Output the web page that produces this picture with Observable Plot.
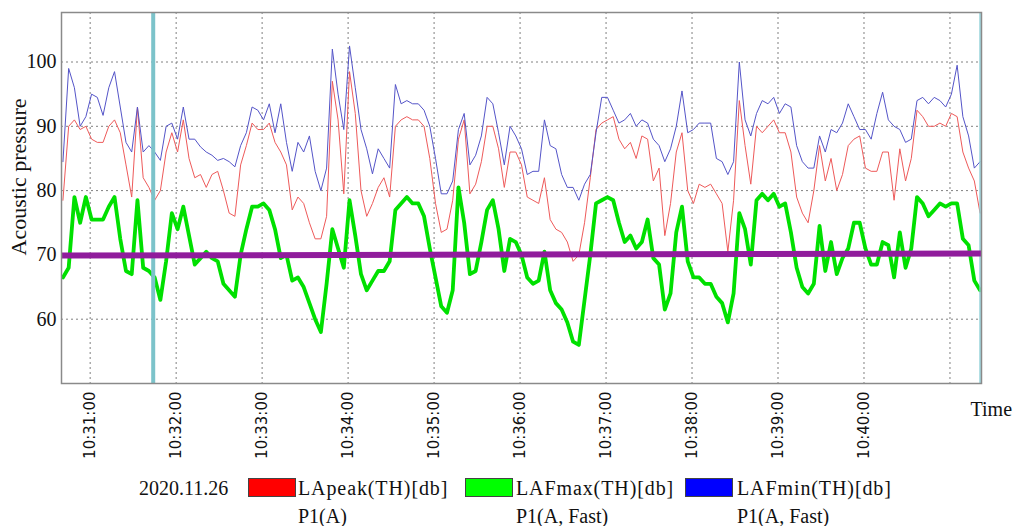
<!DOCTYPE html>
<html><head><meta charset="utf-8">
<script src="https://cdn.jsdelivr.net/npm/d3@7"></script>
<script src="https://cdn.jsdelivr.net/npm/@observablehq/plot@0.6"></script>
<style>
body{margin:0;background:#fff;}
#legend{position:relative;width:1016px;height:56px;}
.leg{position:absolute;font-family:"Liberation Serif",serif;font-size:20px;line-height:20px;color:#111;white-space:nowrap;}
.lab{letter-spacing:0.9px;}
.sw{position:absolute;width:46px;height:17px;border:1px solid #444;}
</style></head><body>
<div id="chart"></div>
<div id="legend"></div>
<script>
// sampling of the three series
const startTime = "10:30:41";
const stepSeconds = 4;
// LApeak(TH)[db] (red)
const laPeak = [78.5,90,91,89.5,90,88,87.5,87.5,90,91,89,84,79,93,82,80.5,78.5,80,86,89,86,91,85,82,82.5,80.5,82.5,83,80,76.5,76,84,87,90.5,89.5,89.5,90.5,87.5,86,84,77,79,78,75,72.5,72.5,76,97,91,79.5,98.5,92,80,76,78,80.5,82,79,90,91,91.5,91,91,90,85,78,73.5,74,78.5,88,91,79.5,81,84.5,90,90,86.5,80.5,86,86,84,79,78.5,78,82,75.5,74,73.5,72,69,70,75,82,89.5,90.5,91,91.5,88,86.5,87.5,85,88.5,88,81.5,83.5,73,78,86,89,80,78,81,80.5,81,79.5,78,70.5,78.5,94,87,81,90,89,90,91,89,89,86,79,76.5,75,80,87,81.5,85,80,82.5,87,88,88.5,83.5,83,83,86,86,78.5,86.5,81.5,85,92.5,91.5,90,90,90.5,90,92,91.5,86,83.5,81.5,76.5];
// LAFmax(TH)[db] (green)
const lafMax = [66.5,68,79,75,79,75.5,75.5,75.5,77.5,79,72.5,67.5,67,78.5,68,67.5,66.5,63,69,76.5,74,77.5,73,68.5,69.5,70.5,69.5,69,65.5,64.5,63.5,70,74,77.5,77.5,78,77,74,69.5,70,66,66.5,65,62.5,60,58,65.5,74,71,68,78.5,73,67,64.5,66,67.5,67.5,69,77,78,79,78,78,76,71,66.5,62,61,64.5,80.5,75,67,67.5,72,77,78.5,74,67.5,72.5,72,70,66.5,65.5,66,70.5,64.5,62.5,61.5,59.5,56.5,56,63,70,78,78.5,79,78.5,75,72,73,71,72,75.5,69.5,68.5,61.5,64,73.5,77.5,69,66.5,66.5,65.5,65.5,63.5,62.5,59.5,64,76.5,74,68.5,78.5,79.5,78.5,79.5,77.5,78,73.5,68,65,64,65.5,74.5,67.5,72,67,69.5,71,75,75,71,68.5,68.5,72,71.5,66.5,73.5,68,71,79,78,76,77,78,77.5,78,78,72.5,71.5,66,64.5];
// LAFmin(TH)[db] (blue)
const lafMin = [84.5,99,96,90,91.5,95,94.5,91.7,96,98.5,93,87.5,86,93,86,87,86,84.7,90,90.5,88,93,88,88,86.8,86,85.5,84.7,85,84.5,83.7,87,89,93,92.5,91,93.5,89,93.5,87.5,83,87.5,86,88.5,83,80,83.5,102,95,89.5,102.5,96,89.5,86.5,82.6,86.5,85,83.5,96.5,93.5,94,93.5,93.5,92.5,90,85,79.5,79.5,81.5,89.5,92,84,85.5,88.5,94.5,93.5,89,84,90,88.5,86.5,82.5,83,83,91,87,86.5,82.5,80.5,80.5,78.5,81,82.5,89,94.5,94.5,92.5,90.5,91,92,90,91,90.5,88,87,84.5,86.5,90,95.5,89,89.5,90.5,90.5,90.5,85,84.5,82.5,84.5,100,91,88.5,92,94,93.5,94.5,92,93.5,93,87,84.5,83.5,83.5,88.5,86,89.5,89,90.5,93.5,91.5,89.5,89.5,88,92,95.3,91,90,89.5,87.5,88,94,94.5,93.5,94.5,94,93,95,99.5,91.5,88.5,83.5,84.5];
// reference (limit) line
const refTimes = ["10:30:40","10:41:22"];
const refValues = [69.9, 70.2];
// markers
const markerTime = "10:31:44";
const endMarkerTime = "10:41:21";
// axes
const tickLabels = ["10:31:00","10:32:00","10:33:00","10:34:00","10:35:00","10:36:00","10:37:00","10:38:00","10:39:00","10:40:00"];
const gridLabels = tickLabels.concat(["10:41:00"]);
const yTicks = [60,70,80,90,100];
const xDomain = ["10:30:40","10:41:22"];
const yDomain = [50, 107.7];
const legendItems = [
  {name:"LApeak(TH)[db]", sub:"P1(A)", color:"#ff0000"},
  {name:"LAFmax(TH)[db]", sub:"P1(A, Fast)", color:"#00ff00"},
  {name:"LAFmin(TH)[db]", sub:"P1(A, Fast)", color:"#0000ff"}
];
const dateLabel = "2020.11.26";

const parse = s => { const [h,m,sec] = s.split(":").map(Number); return new Date(Date.UTC(2020,10,26,h,m,sec)); };
const t0 = parse(startTime).getTime();
const rows = arr => arr.map((v,i) => ({t: new Date(t0 + i*stepSeconds*1000), v}));
const refRows = refTimes.map((s,i) => ({t: parse(s), v: refValues[i]}));

const grid = {stroke:"#808080", strokeOpacity:1, strokeDasharray:"2,3", strokeWidth:1};
const chart = Plot.plot({
  width:1016, height:470,
  marginTop:12, marginBottom:87, marginLeft:61, marginRight:35,
  style:{background:"white", fontFamily:"Liberation Serif"},
  x:{type:"utc", domain: xDomain.map(parse)},
  y:{domain: yDomain},
  marks:[
    Plot.gridY(yTicks, grid),
    Plot.gridX(gridLabels.map(parse), grid),
    Plot.line(rows(laPeak), {x:"t", y:"v", stroke:"#ee5a5a", strokeWidth:1, clip:true}),
    Plot.line(rows(lafMin), {x:"t", y:"v", stroke:"#5454c8", strokeWidth:1, clip:true}),
    Plot.line(rows(lafMax), {x:"t", y:"v", stroke:"#00e000", strokeWidth:3.8, clip:true}),
    Plot.ruleX([parse(markerTime)], {stroke:"#7cc3ca", strokeWidth:4}),
    Plot.ruleX([parse(endMarkerTime)], {stroke:"#8fd0d8", strokeWidth:1.5}),
    Plot.line(refRows, {x:"t", y:"v", stroke:"#901c9c", strokeWidth:6, strokeLinecap:"butt", clip:true}),
    Plot.frame({stroke:"#8a8a8a", strokeWidth:1.5}),
    Plot.axisY(yTicks, {tickSize:0, tickPadding:5, fontSize:20, fontFamily:"Liberation Serif", fill:"#111", label:null}),
    Plot.axisX(tickLabels.map(parse), {tickSize:0, tickPadding:8, tickRotate:-90, tickFormat:d3.utcFormat("%H:%M:%S"), fontSize:15, fontFamily:"DejaVu Sans", fill:"#111", label:null}),
    Plot.text(["Acoustic pressure"], {frameAnchor:"left", dx:-43, dy:-21, rotate:-90, textAnchor:"middle", fontSize:22, fontFamily:"Liberation Serif", fill:"#111", letterSpacing:"0.9px"}),
    Plot.text(["Time"], {frameAnchor:"bottom-right", dx:-11, dy:32, textAnchor:"start", fontSize:20, fontFamily:"Liberation Serif", fill:"#111"})
  ]
});
document.getElementById("chart").appendChild(chart);

const leg = document.getElementById("legend");
const add = (cls, text, left, top, extra) => { const d = document.createElement("div"); d.className = cls; if (text) d.textContent = text; d.style.left = left+"px"; d.style.top = top+"px"; if (extra) Object.assign(d.style, extra); leg.appendChild(d); };
add("leg", dateLabel, 139, 8);
const swX = [248, 465, 685], txX = [298, 516, 737];
legendItems.forEach((it,i) => {
  add("sw", null, swX[i], 8, {background: it.color});
  add("leg lab", it.name, txX[i], 8);
  add("leg", it.sub, txX[i], 36);
});
</script></body></html>
